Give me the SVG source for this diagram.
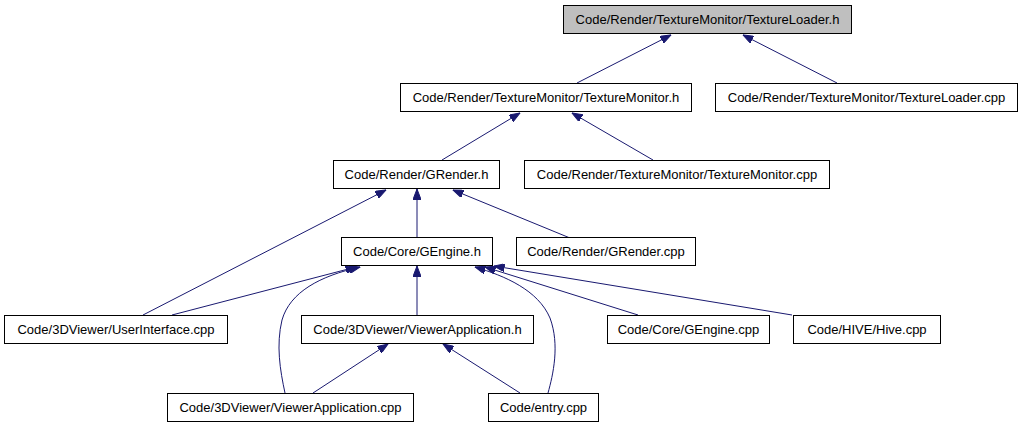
<svg xmlns="http://www.w3.org/2000/svg" width="1023" height="427" viewBox="0 0 1023 427">
<style>
.n rect{fill:#ffffff;stroke:#000000;stroke-width:1}
.n.root rect{fill:#bfbfbf}
.n text{font-family:"Liberation Sans",Arial,sans-serif;font-size:13px;fill:#000000;text-anchor:middle}
#edges path{fill:none;stroke:#191970;stroke-width:1;marker-end:url(#ah)}
</style>
<defs>
<marker id="ah" markerUnits="userSpaceOnUse" markerWidth="11" markerHeight="8" refX="10.5" refY="4" orient="auto">
<path d="M0,0 L10.5,4 L0,8 z" fill="#191970" stroke="#191970" stroke-width="1"/>
</marker>
</defs>
<rect x="0" y="0" width="1023" height="427" fill="#ffffff"/>
<g id="edges">
<path d="M577,83 L671,35"/>
<path d="M837,83 L743,35"/>
<path d="M442,160 L520,113"/>
<path d="M653,160 L572,113"/>
<path d="M417,238 L417,189"/>
<path d="M143,315 L386,190"/>
<path d="M570,238 L453,190"/>
<path d="M172,315 L356,267"/>
<path d="M285,393 C280,370 276,345 282,320 C290,292 320,276 360,267"/>
<path d="M417,315 L417,266"/>
<path d="M520,393 L443,344"/>
<path d="M313,393 L388,344"/>
<path d="M548,393 C553,375 560,345 550,318 C538,290 505,276 475,267"/>
<path d="M638,315 L485,267"/>
<path d="M792,315 L494,266"/>
</g>
<g id="n_TextureLoader_h" class="n root"><rect x="563.5" y="5.5" width="288" height="28"/><text x="707.5" y="24">Code/Render/TextureMonitor/TextureLoader.h</text></g>
<g id="n_TextureMonitor_h" class="n"><rect x="400.5" y="83.5" width="291" height="28"/><text x="546" y="102">Code/Render/TextureMonitor/TextureMonitor.h</text></g>
<g id="n_TextureLoader_cpp" class="n"><rect x="715.5" y="83.5" width="302" height="28"/><text x="866.5" y="102">Code/Render/TextureMonitor/TextureLoader.cpp</text></g>
<g id="n_GRender_h" class="n"><rect x="333.5" y="160.5" width="166" height="28"/><text x="416.5" y="179">Code/Render/GRender.h</text></g>
<g id="n_TextureMonitor_cpp" class="n"><rect x="524.5" y="160.5" width="305" height="28"/><text x="677" y="179">Code/Render/TextureMonitor/TextureMonitor.cpp</text></g>
<g id="n_GEngine_h" class="n"><rect x="341.5" y="237.5" width="151" height="28"/><text x="417" y="256">Code/Core/GEngine.h</text></g>
<g id="n_GRender_cpp" class="n"><rect x="516.5" y="237.5" width="179" height="28"/><text x="606" y="256">Code/Render/GRender.cpp</text></g>
<g id="n_UserInterface_cpp" class="n"><rect x="4.5" y="315.5" width="223" height="28"/><text x="116" y="334">Code/3DViewer/UserInterface.cpp</text></g>
<g id="n_ViewerApplication_h" class="n"><rect x="301.5" y="315.5" width="232" height="28"/><text x="417.5" y="334">Code/3DViewer/ViewerApplication.h</text></g>
<g id="n_GEngine_cpp" class="n"><rect x="607.5" y="315.5" width="162" height="28"/><text x="688.5" y="334">Code/Core/GEngine.cpp</text></g>
<g id="n_Hive_cpp" class="n"><rect x="793.5" y="315.5" width="147" height="28"/><text x="867" y="334">Code/HIVE/Hive.cpp</text></g>
<g id="n_ViewerApplication_cpp" class="n"><rect x="167.5" y="393.5" width="246" height="28"/><text x="290.5" y="412">Code/3DViewer/ViewerApplication.cpp</text></g>
<g id="n_entry_cpp" class="n"><rect x="488.5" y="393.5" width="110" height="28"/><text x="543.5" y="412">Code/entry.cpp</text></g>
</svg>
